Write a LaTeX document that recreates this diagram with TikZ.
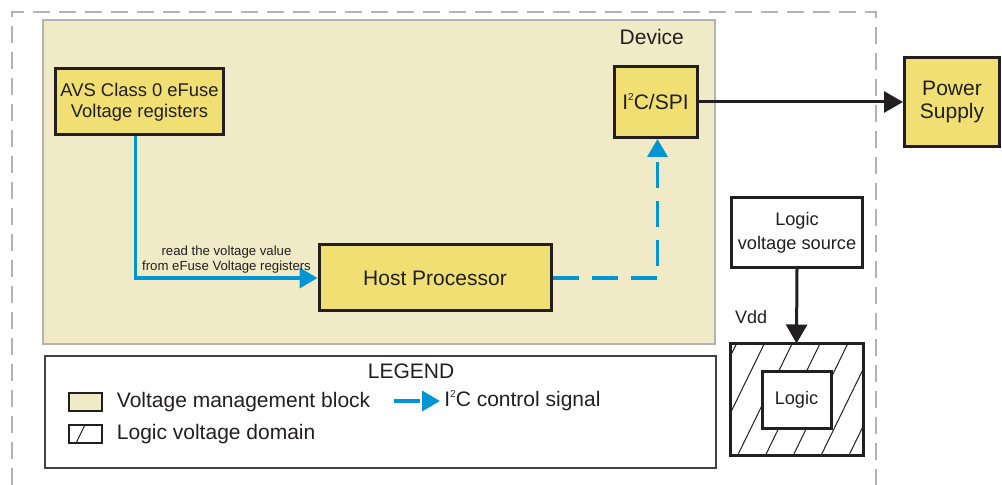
\documentclass[tikz,border=0pt]{standalone}
\usepackage{fontspec}
\setmainfont{Liberation Sans}
\usepackage{xcolor}
\usetikzlibrary{arrows.meta, positioning, patterns.meta}

\definecolor{devfill}{HTML}{F0EAC7}
\definecolor{blockfill}{HTML}{F0DF72}
\definecolor{sigblue}{HTML}{0096D6}
\definecolor{framegray}{HTML}{B3B3B3}
\definecolor{inkblack}{HTML}{231F20}

\newcommand{\smalltwo}{\raisebox{0.43em}[0pt][0pt]{\fontsize{5}{5}\selectfont 2}}

\begin{document}
\begin{tikzpicture}[x=0.5pt, y=-0.5pt, text=inkblack]
    \tikzstyle{block} = [rectangle, draw=inkblack, line width=1.5pt, fill=blockfill, align=center, inner sep=0pt, font=\fontsize{10.5}{11.7}\selectfont]
    \tikzstyle{whitebox} = [rectangle, draw=inkblack, line width=1.5pt, fill=white, align=center, inner sep=0pt, font=\fontsize{9.1}{12}\selectfont]
    \tikzstyle{hatchbox} = [rectangle, draw=inkblack, line width=1.5pt, inner sep=0pt, pattern={Lines[angle=64, distance=12.5pt, line width=0.5pt]}, pattern color=inkblack]
    \tikzstyle{swatch} = [rectangle, draw=inkblack, line width=1pt, minimum width=16.5pt, minimum height=9pt, inner sep=0pt]
    \tikzstyle{legtext} = [inner sep=0pt, anchor=west, font=\fontsize{10.5}{12}\selectfont]
    \tikzstyle{arrow} = [draw=inkblack, line width=1.5pt, -{Triangle[length=9.5pt, width=10.5pt]}]
    \tikzstyle{ctrl} = [draw=sigblue, line width=1.8pt, -{Triangle[length=9pt, width=10pt]}]
    \tikzstyle{ctrldash} = [ctrl, dash pattern=on 13pt off 6.5pt]

    \useasboundingbox (0,0) rectangle (1002,485);

    % outer boundary, open at the bottom
    \draw[framegray, line width=1.2pt, dash pattern=on 8.5pt off 4.5pt] (12,485) -- (12,12) -- (876,12) -- (876,485);

    % device
    \node[rectangle, draw=framegray, line width=1.3pt, fill=devfill, minimum width=336pt, minimum height=162pt] (device) at (379,182) {};
    \node[below left=5pt and 16pt of device.north east, inner sep=0pt, font=\fontsize{10.5}{12}\selectfont] (devlabel) {Device};

    \node[block, font=\fontsize{9.2}{10.5}\selectfont, minimum width=84pt, minimum height=33pt] (avs) at (139.5,102) {AVS Class 0 eFuse\\Voltage registers};
    \node[block, minimum width=41.5pt, minimum height=35.5pt] (i2c) at (655.5,102) {I\smalltwo C/SPI};
    \node[block, minimum width=116pt, minimum height=33pt] (host) at (435,278) {Host Processor};
    \node[block, minimum width=47.5pt, minimum height=44.5pt] (power) at (952,102) {Power\\Supply};

    % logic domain
    \node[whitebox, minimum width=65.5pt, minimum height=35pt] (source) at (797,232.5) {Logic\\voltage source};
    \node[hatchbox, minimum width=66.5pt, minimum height=56pt] (domain) at (796.5,400) {};
    \node[whitebox, minimum width=34.5pt, minimum height=28.5pt] (logic) at (796.5,400) {Logic};

    \draw[ctrl] ([xshift=-2pt]avs.south) |- node[above, pos=0.75, inner sep=1.5pt, align=center, font=\fontsize{6.6}{7.5}\selectfont] {read the voltage value\\from eFuse Voltage registers} (host.west);
    \draw[ctrldash] (host.east) -| ([xshift=1pt]i2c.south);
    \draw[arrow] (i2c.east) -- (power.west);
    \draw[arrow] (source.south) -- node[pos=0.65, left=14pt, inner sep=0pt, font=\fontsize{9}{12}\selectfont] {Vdd} (domain.north);

    % legend
    \node[rectangle, draw=inkblack!85, line width=0.6pt, minimum width=335.5pt, minimum height=56pt] (legend) at (380.5,412) {};
    \node[inner sep=0pt, font=\fontsize{10.5}{12}\selectfont] (legtitle) at (411,371) {LEGEND};
    \node[swatch, fill=devfill] (swatchA) at (85,402) {};
    \node[legtext, right=7pt of swatchA] (textA) {Voltage management block};
    \node[swatch, pattern={Lines[angle=64, distance=12.5pt, line width=0.5pt]}, pattern color=inkblack] (swatchB) at (85,433.7) {};
    \node[legtext, right=7pt of swatchB] (textB) {Logic voltage domain};
    \coordinate (sigstart) at (394,401);
    \coordinate[right=23pt of sigstart] (sigend);
    \draw[ctrldash] (sigstart) -- (sigend);
    \node[legtext, right=2pt of sigend] (textC) {I\smalltwo C control signal};
\end{tikzpicture}
\end{document}
